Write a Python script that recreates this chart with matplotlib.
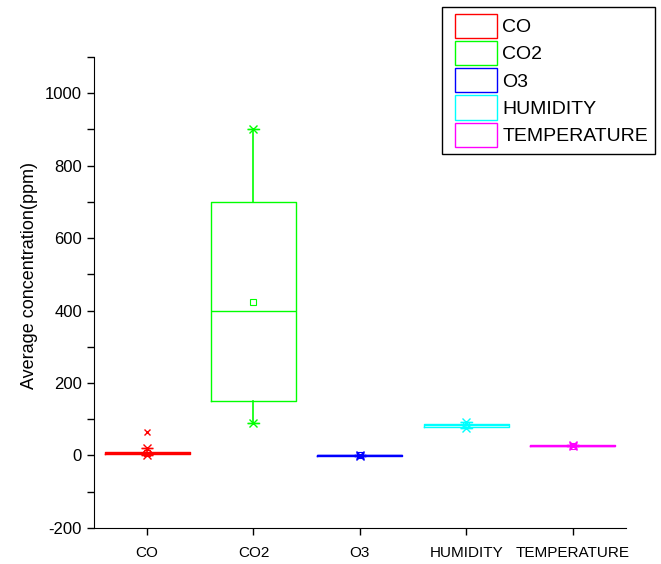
import matplotlib.pyplot as plt
from matplotlib.patches import Patch
from matplotlib.legend_handler import HandlerPatch
from matplotlib.ticker import MultipleLocator

plt.rcParams['font.family'] = ['Liberation Sans', 'DejaVu Sans']
plt.rcParams['axes.unicode_minus'] = False

# ---- data ----
categories = ["CO", "CO2", "O3", "HUMIDITY", "TEMPERATURE"]
colors = ["#ff0000", "#00ff00", "#0000ff", "#00ffff", "#ff00ff"]
q1 = [3, 150, -1, 79, 26]
median = [6, 400, 0, 84, 27]
q3 = [10, 700, 1, 88, 28]
whislo = [0, 90, -1, 76, 25]
whishi = [20, 900, 1, 93, 29]
means = [7, 423, 0, 84, 27]
outliers = [[65], [], [], [], []]

fig = plt.figure(figsize=(6.61, 5.64), dpi=100)
ax = fig.add_axes([0.142, 0.064, 0.805, 0.835])

for i, name in enumerate(categories):
    c = colors[i]
    st = dict(med=median[i], q1=q1[i], q3=q3[i], whislo=whislo[i], whishi=whishi[i],
              mean=means[i], fliers=[], label=name)
    ax.bxp([st], positions=[i + 1], widths=0.8, showmeans=True, showfliers=False,
           boxprops=dict(color=c, lw=1), medianprops=dict(color=c, lw=1),
           whiskerprops=dict(color=c, lw=1.2), capprops=dict(color=c, lw=1),
           capwidths=0.1,
           meanprops=dict(marker='s', markerfacecolor='none', markeredgecolor=c,
                          markersize=4, markeredgewidth=0.8))
    # min / max markers (x + dash)
    for y in (whislo[i], whishi[i]):
        ax.plot(i + 1, y, marker='x', color=c, markersize=6, mew=1)
        ax.plot(i + 1, y, marker='_', color=c, markersize=9, mew=1)
    for y in outliers[i]:
        ax.plot(i + 1, y, marker='x', color=c, markersize=5, mew=1)

ax.set_xlim(0.5, 5.5)
ax.set_ylim(-200, 1100)
ax.set_xticks(range(1, 6))
ax.set_xticklabels(categories, fontsize=11)
ax.yaxis.set_major_locator(MultipleLocator(200))
ax.yaxis.set_minor_locator(MultipleLocator(100))
ax.tick_params(axis='y', labelsize=12, length=5, width=1)
ax.tick_params(axis='y', which='minor', length=5, width=1)
ax.tick_params(axis='x', length=5, width=1, pad=8)
ax.spines['top'].set_visible(False)
ax.spines['right'].set_visible(False)
ax.set_ylabel("Average concentration(ppm)", fontsize=13)
ax.yaxis.set_label_coords(-0.105, 0.537)

handles = [Patch(facecolor='white', edgecolor=c, lw=1) for c in colors]
fig.legend(handles, categories, loc='upper right', bbox_to_anchor=(0.991, 0.988),
           fontsize=14, frameon=True, fancybox=False, edgecolor='black',
           framealpha=1, handlelength=2.46, handleheight=1.55, handletextpad=0.3,
           labelspacing=0.15, borderpad=0.35, borderaxespad=0,
           handler_map={Patch: HandlerPatch(xpad=0.3)})

fig.savefig("out.png", dpi=100)
